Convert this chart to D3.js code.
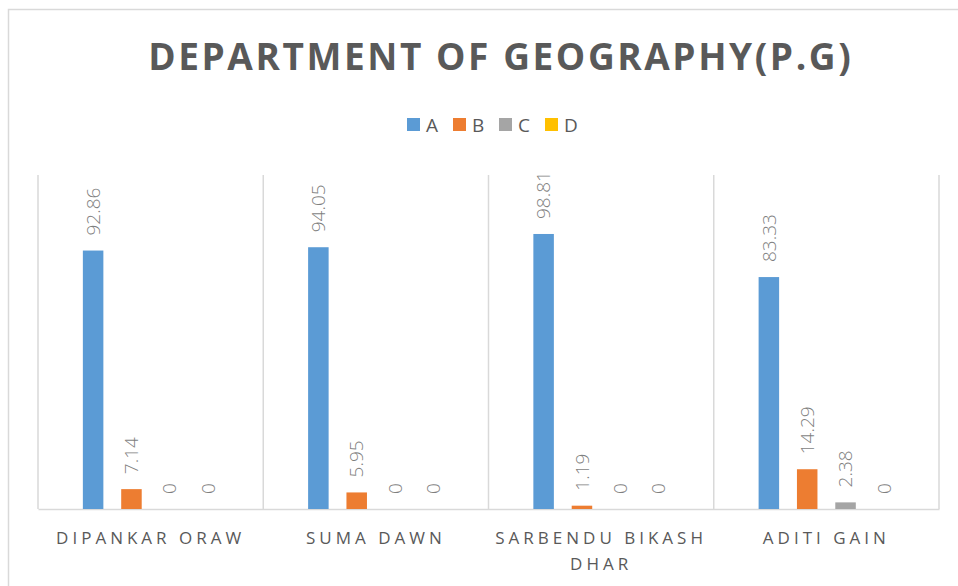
<!DOCTYPE html>
<html>
<head>
<meta charset="utf-8">
<script src="https://cdn.jsdelivr.net/npm/d3@7"></script>
<style>
  body { margin: 0; background: #fff; }
  svg { display: block; font-family: "Open Sans", sans-serif; }
</style>
</head>
<body>
<div class="chart"></div>
<script>
var students = ["DIPANKAR ORAW", "SUMA DAWN", "SARBENDU BIKASH DHAR", "ADITI GAIN"];
var grades = ["A", "B", "C", "D"];
var gradeA = [92.86, 94.05, 98.81, 83.33];
var gradeB = [7.14, 5.95, 1.19, 14.29];
var gradeC = [0, 0, 0, 2.38];
var gradeD = [0, 0, 0, 0];
var colors = ["#5b9bd5", "#ed7d31", "#a5a5a5", "#ffc000"];

var W = 958, H = 586;
var plot = { left: 38, right: 939, top: 175, bottom: 509 };

var series = [gradeA, gradeB, gradeC, gradeD];
var data = students.map(function (s, i) {
  return { name: s, values: grades.map(function (g, j) { return { grade: g, value: series[j][i] }; }) };
});

var svg = d3.select('.chart').append('svg')
  .attr('width', W)
  .attr('height', H);

// outer chart border (runs off the right/bottom edge like the screenshot)
svg.append('rect')
  .attr('x', 8.5).attr('y', 9.5)
  .attr('width', 1000).attr('height', 600)
  .attr('fill', 'none')
  .attr('stroke', '#d9d9d9')
  .attr('stroke-width', 1.5);

// title, stretched to the measured width
var title = svg.append('text')
  .attr('x', 499.5).attr('y', 70)
  .attr('text-anchor', 'middle')
  .attr('fill', '#595959')
  .style('font-size', '37px')
  .style('font-weight', 'bold')
  .text('DEPARTMENT OF GEOGRAPHY(P.G)');
var tl = title.node().getComputedTextLength();
var nch = title.text().length;
title.style('letter-spacing', ((705 - tl) / nch) + 'px')
  .attr('x', 499.5 + (705 - tl) / nch / 2);

// legend
var legend = svg.append('g').attr('transform', 'translate(407,118)');
var li = legend.selectAll('g').data(grades).enter().append('g')
  .attr('transform', function (d, i) { return 'translate(' + (i * 46) + ',0)'; });
li.append('rect')
  .attr('width', 13).attr('height', 13)
  .attr('fill', function (d, i) { return colors[i]; });
li.append('text')
  .attr('x', 19).attr('y', 13.5)
  .attr('fill', '#595959')
  .style('font-size', '19px')
  .text(function (d) { return d; });

// scales
var x0 = d3.scaleBand()
  .domain(students)
  .range([plot.left, plot.right])
  .padding(0);

var x1 = d3.scaleBand()
  .domain(grades)
  .range([0, x0.bandwidth()])
  .paddingInner(0.465)
  .paddingOuter(1.17);

var y = d3.scaleLinear()
  .domain([0, 120])
  .range([plot.bottom, plot.top]);

// vertical category separators
var seps = students.map(function (s) { return x0(s); }).concat([plot.right]);
svg.selectAll('.sep').data(seps).enter().append('line')
  .attr('class', 'sep')
  .attr('x1', function (d) { return d; }).attr('x2', function (d) { return d; })
  .attr('y1', plot.top).attr('y2', plot.bottom)
  .attr('stroke', '#d9d9d9').attr('stroke-width', 1.5);

// x axis (baseline + category labels)
var xAxis = d3.axisBottom(x0).tickSize(0).tickPadding(0);
var gx = svg.append('g')
  .attr('class', 'x axis')
  .attr('transform', 'translate(0,' + plot.bottom + ')')
  .call(xAxis);
gx.select('.domain').attr('stroke', '#d9d9d9').attr('stroke-width', 1.5);
gx.selectAll('.tick text')
  .attr('fill', '#595959')
  .style('font-family', '"Open Sans", sans-serif')
  .style('font-size', '17px')
  .style('letter-spacing', '4px')
  .attr('y', 0).attr('dy', null)
  .each(function (d) {
    var t = d3.select(this);
    var words = d.split(' ');
    t.text(null);
    var line = [], lineNo = 0;
    var ts = t.append('tspan').attr('x', 0).attr('y', 35);
    words.forEach(function (w) {
      line.push(w);
      ts.text(line.join(' '));
      if (ts.node().getComputedTextLength() > 218 && line.length > 1) {
        line.pop();
        ts.text(line.join(' '));
        line = [w];
        lineNo++;
        ts = t.append('tspan').attr('x', 0).attr('y', 35 + lineNo * 26).text(w);
      }
    });
  });

// bars
var groups = svg.selectAll('.grp').data(data).enter().append('g')
  .attr('class', 'grp')
  .attr('transform', function (d) { return 'translate(' + x0(d.name) + ',0)'; });

groups.selectAll('rect').data(function (d) { return d.values; }).enter().append('rect')
  .attr('x', function (d) { return x1(d.grade); })
  .attr('y', function (d) { return y(d.value); })
  .attr('width', x1.bandwidth())
  .attr('height', function (d) { return y(0) - y(d.value); })
  .attr('fill', function (d, i) { return colors[i]; });

// data labels, rotated
groups.selectAll('.lbl').data(function (d) { return d.values; }).enter().append('text')
  .attr('class', 'lbl')
  .attr('transform', function (d) {
    return 'translate(' + (x1(d.grade) + x1.bandwidth() / 2) + ',' + (y(d.value) - 15) + ')rotate(-90)';
  })
  .attr('dy', '0.35em')
  .attr('fill', '#7f7f7f')
  .style('font-size', '19px')
  .style('font-weight', 300)
  .text(function (d) { return d.value; });
</script>
</body>
</html>
